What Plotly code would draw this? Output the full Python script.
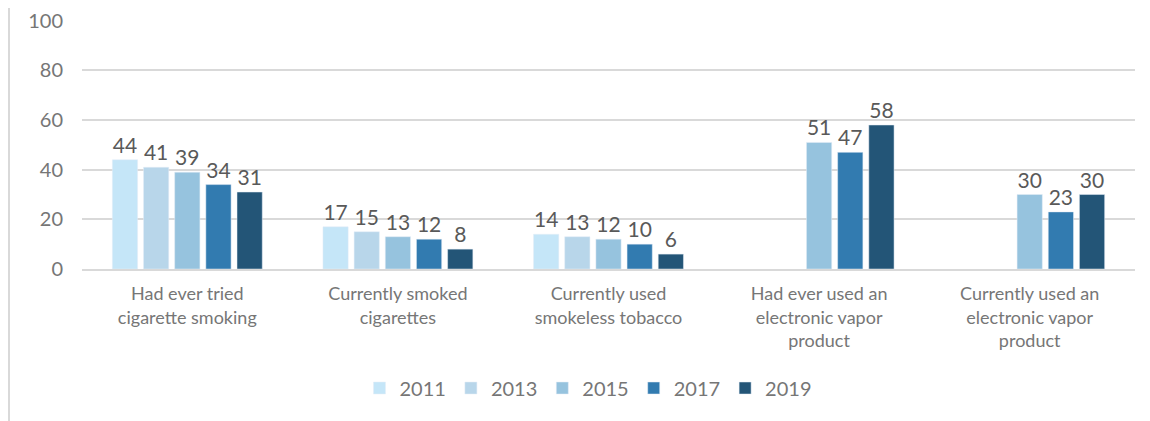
import plotly.graph_objects as go

categories = [
    "Had ever tried<br>cigarette smoking",
    "Currently smoked<br>cigarettes",
    "Currently used<br>smokeless tobacco",
    "Had ever used an<br>electronic vapor<br>product",
    "Currently used an<br>electronic vapor<br>product",
]
years = ["2011", "2013", "2015", "2017", "2019"]
v2011 = [44, 17, 14, None, None]
v2013 = [41, 15, 13, None, None]
v2015 = [39, 13, 12, 51, 30]
v2017 = [34, 12, 10, 47, 23]
v2019 = [31, 8, 6, 58, 30]
series = [v2011, v2013, v2015, v2017, v2019]
colors = ["#C5E6F8", "#B8D6EA", "#96C3DE", "#327BB0", "#235577"]

FONT = "Lato, 'Open Sans', sans-serif"

fig = go.Figure()
for y, vals, c in zip(years, series, colors):
    fig.add_trace(go.Bar(
        name=y, x=categories, y=vals, marker_color=c,
        text=[("" if v is None else str(v)) for v in vals],
        textposition="outside", cliponaxis=False,
        textfont=dict(size=21, color="#595959", family=FONT),
    ))

fig.update_layout(
    width=1150, height=421,
    margin=dict(l=74, r=23, t=12, b=160, autoexpand=False),
    paper_bgcolor="white", plot_bgcolor="white",
    barmode="group", bargap=0.26, bargroupgap=0.19,
    font=dict(family=FONT, color="#767676"),
    legend=dict(orientation="h", x=0.481, xanchor="center", y=-0.478, yanchor="middle",
                font=dict(size=20, color="#767676"), itemwidth=30, traceorder="normal"),
    showlegend=True,
)
fig.update_yaxes(range=[0, 100.3], tickvals=[0, 20, 40, 60, 80, 100], showgrid=True,
                 gridcolor="#D9D9D9", gridwidth=1.5, ticklabeloverflow="allow",
                 tickfont=dict(size=20, color="#767676"), zeroline=False, ticks="",
                 ticklabelstandoff=18, automargin=False)
fig.update_xaxes(showline=True, linecolor="#D9D9D9", linewidth=1.5, automargin=False,
                 tickfont=dict(size=18, color="#767676"), ticks="", ticklabelstandoff=8)
fig.add_shape(type="line", xref="paper", yref="paper", x0=-73/1053, x1=-73/1053, y0=-160/249, y1=12/249 + 1,
              line=dict(color="#D9D9D9", width=2))
fig.write_html("out.html")
